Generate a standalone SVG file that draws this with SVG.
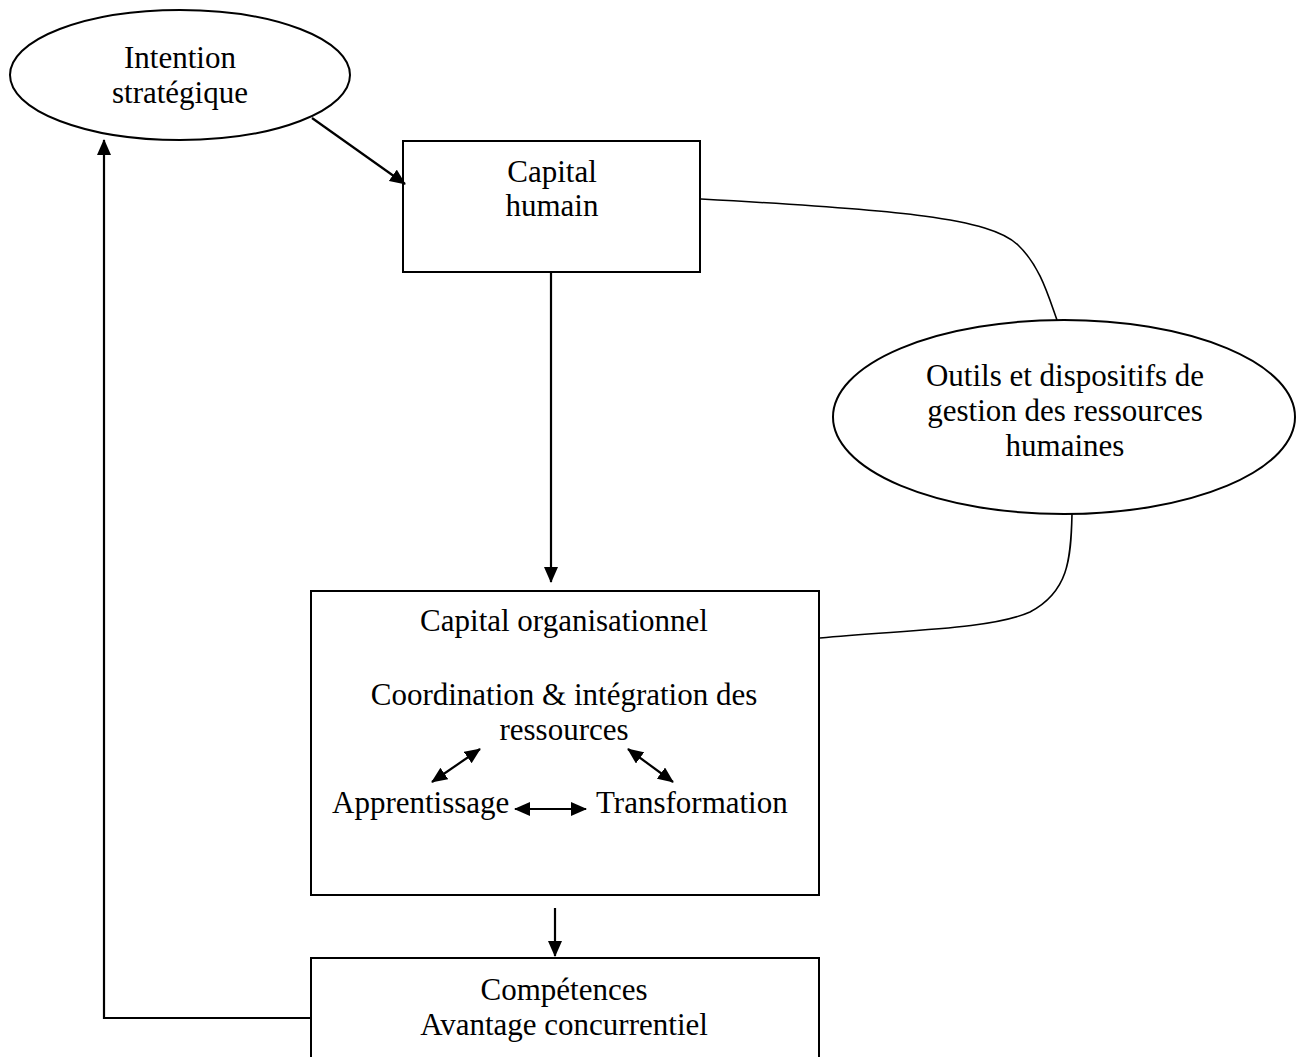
<svg xmlns="http://www.w3.org/2000/svg" width="1296" height="1057" viewBox="0 0 1296 1057">
  <style>
    .shape { fill: #ffffff; stroke: #000000; stroke-width: 2; }
    .label { font-family: "Liberation Serif", "Times New Roman", serif; font-size: 31px; fill: #000000; text-anchor: middle; }
    .edge { fill: none; stroke: #000000; stroke-width: 2.2; }
    .link { fill: none; stroke: #000000; stroke-width: 1.6; }
  </style>
  <defs>
    <marker id="head" markerUnits="userSpaceOnUse" markerWidth="16" markerHeight="14" refX="15" refY="7" orient="auto-start-reverse" viewBox="0 0 16 14">
      <path d="M0,0 L16,7 L0,14 Z" fill="#000000"/>
    </marker>
  </defs>

  <rect width="1296" height="1057" fill="#ffffff"/>

  <g id="intention">
    <ellipse class="shape" cx="180" cy="75" rx="170" ry="65"/>
    <text class="label" x="180" y="68">Intention</text>
    <text class="label" x="180" y="103">stratégique</text>
  </g>

  <g id="capital-humain">
    <rect class="shape" x="403" y="141" width="297" height="131"/>
    <text class="label" x="552" y="182">Capital</text>
    <text class="label" x="552" y="216">humain</text>
  </g>

  <g id="outils-grh">
    <ellipse class="shape" cx="1064" cy="417" rx="231" ry="97"/>
    <text class="label" x="1065" y="386">Outils et dispositifs de</text>
    <text class="label" x="1065" y="421">gestion des ressources</text>
    <text class="label" x="1065" y="456">humaines</text>
  </g>

  <g id="capital-organisationnel">
    <rect class="shape" x="311" y="591" width="508" height="304"/>
    <text class="label" x="564" y="631">Capital organisationnel</text>
    <text class="label" x="564" y="705">Coordination &amp; intégration des</text>
    <text class="label" x="564" y="740">ressources</text>
    <text class="label" x="332" y="813" style="text-anchor:start">Apprentissage</text>
    <text class="label" x="596" y="813" style="text-anchor:start">Transformation</text>
  </g>

  <g id="competences">
    <rect class="shape" x="311" y="958" width="508" height="120"/>
    <text class="label" x="564" y="1000">Compétences</text>
    <text class="label" x="564" y="1035">Avantage concurrentiel</text>
  </g>

  <!-- connectors, drawn over the node fills -->
  <g id="connectors">
    <line class="edge" x1="312" y1="118" x2="405" y2="184" marker-end="url(#head)"/>
    <line class="edge" x1="551" y1="273" x2="551" y2="582" marker-end="url(#head)"/>
    <line class="edge" x1="555" y1="908" x2="555" y2="956" marker-end="url(#head)"/>
    <polyline class="edge" points="311,1018 104,1018 104,140" marker-end="url(#head)"/>
    <path class="link" d="M701,199 C900,210 990,218 1018,245 C1040,266 1048,295 1057,320"/>
    <path class="link" d="M1072,514 C1071,560 1068,592 1030,612 C990,630 900,630 820,638"/>
    <!-- two-way links inside the organisational capital box -->
    <line class="edge" x1="432" y1="782" x2="480" y2="749" marker-start="url(#head)" marker-end="url(#head)"/>
    <line class="edge" x1="628" y1="749" x2="673" y2="782" marker-start="url(#head)" marker-end="url(#head)"/>
    <line class="edge" x1="515" y1="809" x2="586" y2="809" marker-start="url(#head)" marker-end="url(#head)"/>
  </g>
</svg>
